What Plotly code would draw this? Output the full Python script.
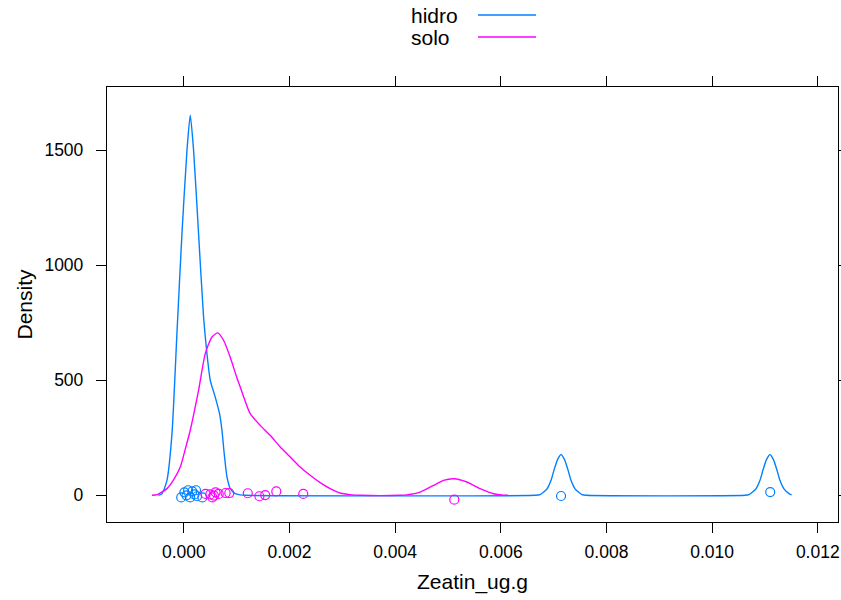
import plotly.graph_objects as go

# ---- data ----
groups = ["hidro", "solo"]
colors = ["#0080ff", "#ff00ff"]

# density curve of "hidro"
hidro_x = [-0.000484, -0.000414, -0.000320, -0.000225, -0.000131, -0.000036, 0.000059,
           0.000121, 0.000184, 0.000278, 0.000373, 0.000437, 0.000500, 0.000594,
           0.000675, 0.000721, 0.000764, 0.000816, 0.000878, 0.000973, 0.001067, 0.001162,
           0.006650, 0.006743, 0.006875, 0.006951, 0.007008, 0.007074, 0.007140, 0.007206,
           0.007272, 0.007329, 0.007405, 0.007537, 0.007620,
           0.010620, 0.010698, 0.010830, 0.010906, 0.010963, 0.011029, 0.011095, 0.011161,
           0.011227, 0.011284, 0.011360, 0.011470, 0.011506]
hidro_y = [0, 7, 65, 268, 704, 1138, 1500,
           1652, 1500, 1138, 775, 616, 500, 427,
           355, 283, 181, 80, 29, 7, 2, 0,
           0, 3, 28, 65, 110, 155, 177, 155,
           110, 65, 28, 3, 0,
           0, 3, 28, 65, 110, 155, 177, 155,
           110, 65, 28, 5, 2]

# density curve of "solo"
solo_x = [-0.000604, -0.000503, -0.000320, -0.000201, -0.000068, 0.000026, 0.000121,
          0.000278, 0.000405, 0.000532, 0.000638, 0.000751, 0.000878, 0.001005, 0.001067,
          0.001256, 0.001445, 0.001634, 0.001824, 0.002013, 0.002202, 0.002391, 0.002580,
          0.002769, 0.002958, 0.003147, 0.003337, 0.004094, 0.004221, 0.004473, 0.004725,
          0.004914, 0.005116, 0.005357, 0.005608, 0.005860, 0.006044, 0.006138]
solo_y = [0, 3, 29, 65, 123, 200, 283,
          456, 616, 688, 706, 674, 600, 510, 471,
          355, 304, 261, 210, 167, 123, 87, 55,
          29, 10, 3, 0, 0, 2, 14, 43,
          65, 72, 58, 29, 7, 1, 0]

# observations (rug points, jittered vertically)
hidro_pts_x = [-0.00005, 0.00001, 0.00005, 0.00008, 0.00012, 0.00016, 0.00020,
               0.00023, 0.00025, 0.00035, 0.00714, 0.01110]
hidro_pts_y = [-9, 13, 0, 22, -9, 17, 4, 22, -4, -9, -3, 14]
solo_pts_x = [0.00041, 0.00050, 0.00054, 0.00057, 0.00060, 0.00066, 0.00079, 0.00086,
              0.00121, 0.00143, 0.00154, 0.00175, 0.00226, 0.00512]
solo_pts_y = [6, 4, -9, -1, 13, 6, 10, 10, 9, -4, 1, 17, 6, -19]

x_ticks = [0.000, 0.002, 0.004, 0.006, 0.008, 0.010, 0.012]
y_ticks = [0, 500, 1000, 1500]

FONT = "Liberation Sans, Arial, sans-serif"

fig = go.Figure()
curves = [(hidro_x, hidro_y), (solo_x, solo_y)]
points = [(hidro_pts_x, hidro_pts_y), (solo_pts_x, solo_pts_y)]
for name, col, (cx, cy), (px, py) in zip(groups, colors, curves, points):
    fig.add_trace(go.Scatter(x=cx, y=cy, mode="lines", name=name,
                             line=dict(color=col, width=1.4, shape="spline", smoothing=0.6),
                             showlegend=False, hoverinfo="skip"))
    fig.add_trace(go.Scatter(x=px, y=py, mode="markers", name=name,
                             marker=dict(symbol="circle-open", size=9, color=col,
                                         line=dict(width=1.2, color=col)),
                             showlegend=False))

# manual key above the panel (lattice style: text left, line right)
key_y = [1.1655, 1.1149]
for g, col, ky in zip(groups, colors, key_y):
    fig.add_annotation(x=0.4131, y=ky, xref="paper", yref="paper", text=g,
                       showarrow=False, xanchor="left", yanchor="middle",
                       font=dict(family=FONT, size=21, color="black"))
    fig.add_shape(type="line", xref="paper", yref="paper",
                  x0=0.5075, x1=0.5869, y0=ky, y1=ky,
                  line=dict(color=col, width=1.4))

axis_common = dict(showline=True, linecolor="black", linewidth=1.3, mirror="ticks",
                   ticks="outside", ticklen=10, tickcolor="black", tickwidth=1.3,
                   showgrid=False, zeroline=False, automargin=False,
                   tickfont=dict(family=FONT, size=17.5, color="black"))

fig.update_layout(
    width=841, height=600,
    margin=dict(l=107, r=3, t=87, b=78, autoexpand=False),
    paper_bgcolor="white", plot_bgcolor="white",
    font=dict(family=FONT, color="black"),
    xaxis=dict(range=[-0.001455, 0.012383], tickvals=x_ticks, tickformat=".3f",
               ticklabelstandoff=4,
               title=dict(text="Zeatin_ug.g", font=dict(family=FONT, size=21), standoff=13),
               **axis_common),
    yaxis=dict(range=[-116, 1775], tickvals=y_ticks, tickformat="d",
               ticklabelstandoff=9,
               title=dict(text="Density", font=dict(family=FONT, size=21), standoff=6),
               **axis_common),
)

fig.write_html(
    "out.html",
    config={"displayModeBar": False},
    post_script="document.documentElement.style.margin='0';"
                "document.body.style.margin='0';"
                "document.body.style.overflow='hidden';",
)
